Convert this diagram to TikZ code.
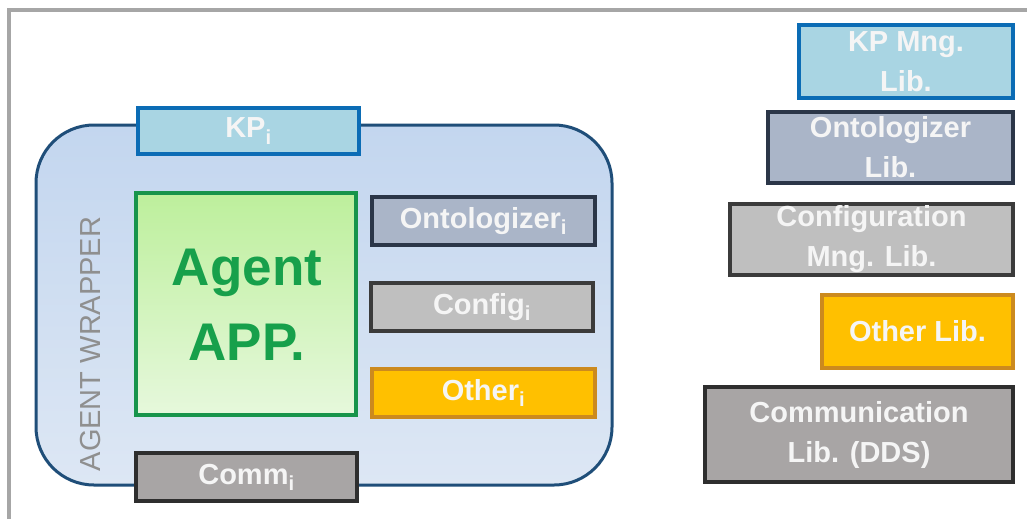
\documentclass[tikz,border=0pt]{standalone}
\usepackage{fontspec}
\setmainfont{Liberation Sans}
\begin{document}
\begin{tikzpicture}[x=1pt,y=-1pt,
  txt/.style={text=white!96!black, font=\bfseries\fontsize{29}{34}\selectfont},
  libtxt/.style={text=white!96!black, align=center, font=\bfseries\fontsize{29}{40}\selectfont},
  blk/.style={draw, line width=4pt, inner sep=0pt},
  kpbox/.style={blk, fill=kpfill, draw=kpline},
  ontbox/.style={blk, fill=ontfill, draw=ontline},
  cfgbox/.style={blk, fill=cfgfill, draw=cfgline},
  othbox/.style={blk, fill=othfill, draw=othline},
  combox/.style={blk, fill=comfill, draw=comline}
]
\definecolor{frame}{HTML}{A6A6A6}
\definecolor{wrapline}{HTML}{1F4E79}
\definecolor{wraptop}{HTML}{C3D6EF}
\definecolor{wrapbot}{HTML}{DDE7F4}
\definecolor{kpfill}{HTML}{A9D5E3}
\definecolor{kpline}{HTML}{0B6CB5}
\definecolor{apptop}{HTML}{BDEF9C}
\definecolor{appbot}{HTML}{E6F8DC}
\definecolor{appline}{HTML}{17944B}
\definecolor{apptext}{HTML}{17A04B}
\definecolor{ontfill}{HTML}{AAB5C8}
\definecolor{ontline}{HTML}{2B3648}
\definecolor{cfgfill}{HTML}{BFBFBF}
\definecolor{cfgline}{HTML}{3B3B3B}
\definecolor{othfill}{HTML}{FFC000}
\definecolor{othline}{HTML}{CC8A1E}
\definecolor{comfill}{HTML}{A8A5A5}
\definecolor{comline}{HTML}{2E2E2E}
\definecolor{wraptext}{HTML}{8F8F8F}

\useasboundingbox (0,0) rectangle (1027,519);
\fill[white] (0,0) rectangle (1027,519);

% outer frame
\draw[frame, line width=4pt] (8.5,519) -- (8.5,10) -- (1027,10);

% agent wrapper
\node[draw=wrapline, line width=3pt, top color=wraptop, bottom color=wrapbot,
      rounded corners=58pt, minimum width=576pt, minimum height=360pt, inner sep=0pt]
  (wrapper) at (324,305) {};
\node[rotate=90, text=wraptext, font=\fontsize{29}{34}\selectfont] (wraplabel) at (91,344) {AGENT WRAPPER};

% wrapper components
\node[kpbox, minimum width=221pt, minimum height=46pt] (kp) at (248.5,131) {};
\node[txt] at (kp) {KP\textsubscript{i}};

\node[draw=appline, line width=4pt, top color=apptop, bottom color=appbot, inner sep=0pt,
      minimum width=220pt, minimum height=222pt] (app) at (246,304) {};
\node[text=apptext, align=center, font=\bfseries\fontsize{53}{75}\selectfont] (applabel) at (247,305) {Agent\\APP.};

\node[ontbox, minimum width=223pt, minimum height=48pt] (ont) at (483.5,221) {};
\node[txt] at (ont) {Ontologizer\textsubscript{i}};

\node[cfgbox, minimum width=222pt, minimum height=48pt] (cfg) at (482,307) {};
\node[txt] at (cfg) {Config\textsubscript{i}};

\node[othbox, minimum width=223pt, minimum height=48pt] (oth) at (483.5,393) {};
\node[txt] at (oth) {Other\textsubscript{i}};

\node[combox, minimum width=221pt, minimum height=48pt] (com) at (246.5,477) {};
\node[txt] at (com) {Comm\textsubscript{i}};

% libraries
\node[kpbox, minimum width=214pt, minimum height=73pt] (kplib) at (906,61.5) {};
\node[libtxt] at (kplib) {KP Mng.\\Lib.};

\node[ontbox, minimum width=245pt, minimum height=71pt] (ontlib) at (890.5,147.5) {};
\node[libtxt] at (ontlib) {Ontologizer\\Lib.};

\node[cfgbox, minimum width=283pt, minimum height=71pt] (cfglib) at (871.5,239.5) {};
\node[libtxt] at (cfglib) {Configuration\\Mng. Lib.};

\node[othbox, minimum width=191pt, minimum height=73pt] (othlib) at (917.5,331.5) {};
\node[libtxt] at (othlib) {Other Lib.};

\node[combox, minimum width=308pt, minimum height=95pt] (comlib) at (859,434.5) {};
\node[libtxt] at (comlib) {Communication\\Lib. (DDS)};
\end{tikzpicture}
\end{document}
